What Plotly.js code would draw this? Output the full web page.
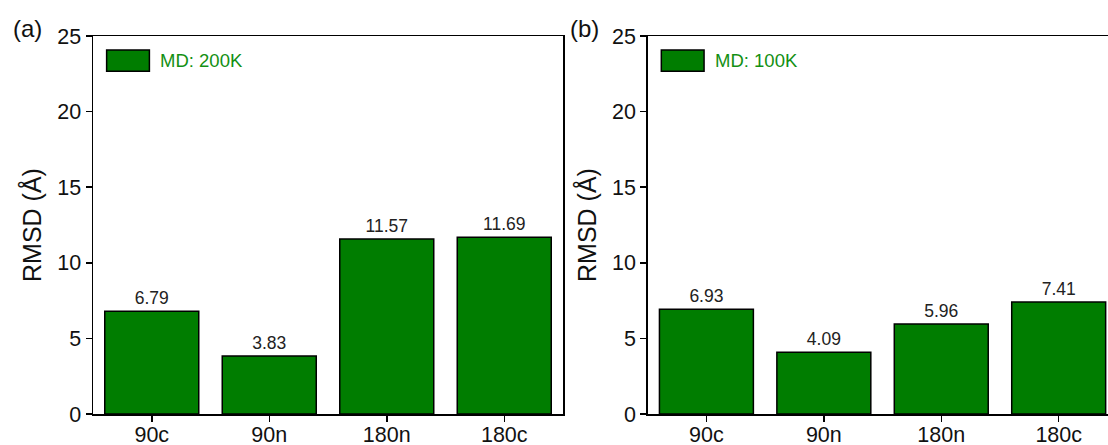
<!DOCTYPE html>
<html>
<head>
<meta charset="utf-8">
<script src="https://cdn.plot.ly/plotly-3.0.1.min.js"></script>
<style>
  html, body { margin: 0; padding: 0; overflow: hidden; background: #fff; }
  #chart { width: 1120px; height: 445px; }
</style>
</head>
<body>
<div id="chart"></div>
<script>
// RMSD per configuration for two MD temperatures
const categories = ['90c', '90n', '180n', '180c'];
const rmsd200K = [6.79, 3.83, 11.57, 11.69];
const rmsd100K = [6.93, 4.09, 5.96, 7.41];
const seriesNames = ['MD: 200K', 'MD: 100K'];
const panelLabels = ['(a)', '(b)'];
const yTicks = [0, 5, 10, 15, 20, 25];

const barColor = '#007d00';
const textFont = 'Liberation Sans, Arial, sans-serif';

function barTrace(values, xa, ya) {
  return {
    type: 'bar',
    x: categories,
    y: values,
    xaxis: xa,
    yaxis: ya,
    width: 0.8,
    marker: { color: barColor, line: { color: '#000', width: 1.5 } },
    text: values.map(v => v.toFixed(2)),
    textposition: 'outside',
    textfont: { family: textFont, size: 17.5, color: '#222' },
    cliponaxis: false,
    showlegend: false,
    hoverinfo: 'x+y'
  };
}

const W = 1120;
function xAxis(domainPx, anchor) {
  return {
    anchor: anchor,
    domain: [domainPx[0] / W, domainPx[1] / W],
    type: 'category',
    range: [-0.5, 3.5],
    showline: true, mirror: true, linecolor: '#000', linewidth: 1.5,
    ticks: 'outside', ticklen: 6, tickwidth: 1.5, tickcolor: '#000',
    ticklabelstandoff: -5,
    tickfont: { family: textFont, size: 21.5, color: '#111' },
    showgrid: false, zeroline: false, fixedrange: true
  };
}
function yAxis(anchor) {
  return {
    anchor: anchor,
    domain: [0, 1],
    range: [0, 25],
    tickvals: yTicks,
    showline: true, mirror: true, linecolor: '#000', linewidth: 1.5,
    ticks: 'outside', ticklen: 6, tickwidth: 1.5, tickcolor: '#000',
    tickfont: { family: textFont, size: 21.5, color: '#111' },
    title: { text: 'RMSD (Å)', font: { family: textFont, size: 25, color: '#111' }, standoff: 8 },
    showgrid: false, zeroline: false, fixedrange: true
  };
}

const data = [
  barTrace(rmsd200K, 'x', 'y'),
  barTrace(rmsd100K, 'x2', 'y2')
];

// Legend swatch + label inside each panel, and panel letters
const shapes = [];
const annotations = [];
[['x', 'y'], ['x2', 'y2']].forEach(([xa, ya], i) => {
  shapes.push({
    type: 'rect',
    xref: xa + ' domain', yref: ya + ' domain',
    x0: 0.029, x1: 0.12, y0: 0.907, y1: 0.963,
    fillcolor: barColor, line: { color: '#000', width: 1.5 }
  });
  annotations.push({
    xref: xa + ' domain', yref: ya + ' domain',
    x: 0.138, y: 0.935, xanchor: 'left', yanchor: 'middle',
    text: seriesNames[i], showarrow: false,
    font: { family: textFont, size: 18.5, color: '#139013' }
  });
});
[27, 584].forEach((px, i) => {
  annotations.push({
    xref: 'paper', yref: 'paper', x: px / W, y: 1, yshift: 8,
    xanchor: 'center', yanchor: 'middle', text: panelLabels[i], showarrow: false,
    font: { family: textFont, size: 24, color: '#111' }
  });
});

const layout = {
  width: W,
  height: 445,
  margin: { l: 0, r: 0, t: 36, b: 31 },
  paper_bgcolor: '#fff',
  plot_bgcolor: '#fff',
  xaxis: xAxis([93, 563], 'y'),
  yaxis: yAxis('x'),
  xaxis2: xAxis([647.7, 1117.4], 'y2'),
  yaxis2: yAxis('x2'),
  shapes: shapes,
  annotations: annotations,
  showlegend: false
};

Plotly.newPlot('chart', data, layout, { displayModeBar: false, staticPlot: true });
</script>
</body>
</html>
